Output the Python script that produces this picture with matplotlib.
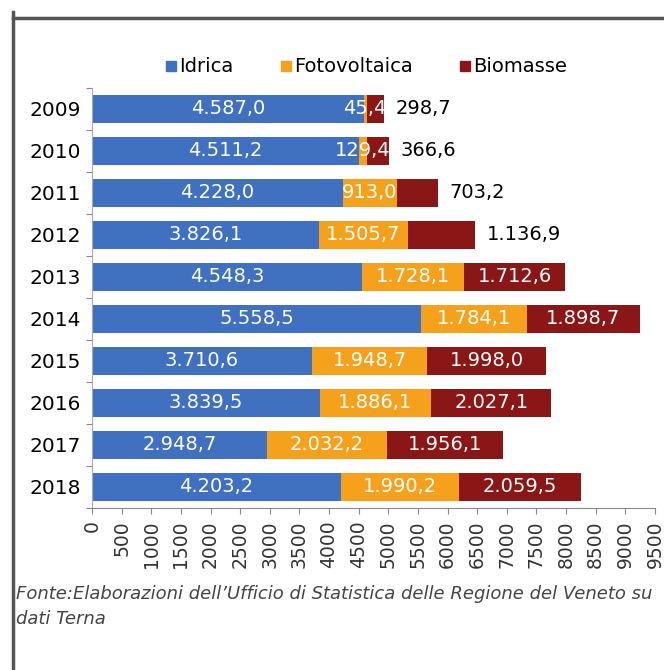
import matplotlib.pyplot as plt
import numpy as np
from matplotlib.lines import Line2D

# Produzione di energia rinnovabile in Veneto (GWh)
years = ['2009', '2010', '2011', '2012', '2013', '2014', '2015', '2016', '2017', '2018']
idrica = [4587.0, 4511.2, 4228.0, 3826.1, 4548.3, 5558.5, 3710.6, 3839.5, 2948.7, 4203.2]
fotovoltaica = [45.4, 129.4, 913.0, 1505.7, 1728.1, 1784.1, 1948.7, 1886.1, 2032.2, 1990.2]
biomasse = [298.7, 366.6, 703.2, 1136.9, 1712.6, 1898.7, 1998.0, 2027.1, 1956.1, 2059.5]
series_names = ['Idrica', 'Fotovoltaica', 'Biomasse']
x_ticks = list(range(0, 9501, 500))

BLUE = '#4070c0'
ORANGE = '#f5a11c'
RED = '#8a1616'
FONT = 'DejaVu Sans'


def fmt_it(v):
    s = f'{v:,.1f}'
    return s.replace(',', 'X').replace('.', ',').replace('X', '.')


fig = plt.figure(figsize=(6.64, 6.70), dpi=100)
ax = fig.add_axes([92 / 664, 1 - 508 / 670, 563 / 664, 420 / 670])

y = np.arange(len(years))
h = 0.67
idr = np.array(idrica)
fot = np.array(fotovoltaica)
bio = np.array(biomasse)

ax.barh(y, idr, height=h, color=BLUE, label=series_names[0])
ax.barh(y, fot, left=idr, height=h, color=ORANGE, label=series_names[1])
ax.barh(y, bio, left=idr + fot, height=h, color=RED, label=series_names[2])

vfs = 14
for i in range(len(years)):
    ax.text(idr[i] / 2, y[i], fmt_it(idr[i]), ha='center', va='center',
            color='white', fontsize=vfs, family=FONT)
    ax.text(idr[i] + fot[i] / 2, y[i], fmt_it(fot[i]), ha='center', va='center',
            color='white', fontsize=vfs, family=FONT)
    if bio[i] > 1500:
        ax.text(idr[i] + fot[i] + bio[i] / 2, y[i], fmt_it(bio[i]), ha='center',
                va='center', color='white', fontsize=vfs, family=FONT)
    else:
        ax.text(idr[i] + fot[i] + bio[i] + 190, y[i], fmt_it(bio[i]), ha='left',
                va='center', color='black', fontsize=vfs, family=FONT)

ax.set_xlim(0, 9500)
ax.set_ylim(len(years) - 0.5, -0.5)
ax.set_yticks(y)
ax.set_yticklabels(years, fontsize=14.5, family=FONT)
ax.set_yticks(np.arange(-0.5, len(years), 1), minor=True)
ax.tick_params(axis='y', which='major', length=0, pad=8)
ax.tick_params(axis='y', which='minor', length=4, color='#888888', width=0.8)
ax.set_xticks(x_ticks)
ax.set_xticklabels([str(t) for t in x_ticks], rotation=90, fontsize=13.5,
                   family=FONT, color='#333333')
ax.tick_params(axis='x', length=4, color='#888888', width=0.8, pad=5)
for s in ['top', 'right']:
    ax.spines[s].set_visible(False)
ax.spines['left'].set_color('#aaaaaa')
ax.spines['left'].set_linewidth(0.8)
ax.spines['bottom'].set_color('#888888')
ax.spines['bottom'].set_linewidth(0.8)

handles = [Line2D([], [], marker='s', linestyle='', markersize=7.5, color=c)
           for c in [BLUE, ORANGE, RED]]
fig.legend(handles, series_names, loc='center', bbox_to_anchor=(0.55, 1 - 67 / 670),
           ncol=3, frameon=False, prop={'family': FONT, 'size': 14},
           handletextpad=0.0, columnspacing=2.3, handlelength=0.8)

# cornice
fig.add_artist(Line2D([13 / 664, 1], [1 - 18 / 670] * 2, color='#555555', lw=2.5))
fig.add_artist(Line2D([13 / 664] * 2, [0, 1 - 12 / 670], color='#555555', lw=2.5))

fig.text(16 / 664, 1 - 594 / 670,
         "Fonte:Elaborazioni dell\u2019Ufficio di Statistica delle Regione del Veneto su",
         fontsize=13, style='italic', color='#444444', family=FONT, va='center')
fig.text(16 / 664, 1 - 619 / 670, 'dati Terna', fontsize=13, style='italic',
         color='#444444', family=FONT, va='center')

fig.savefig('out.png', dpi=100, facecolor='white')
